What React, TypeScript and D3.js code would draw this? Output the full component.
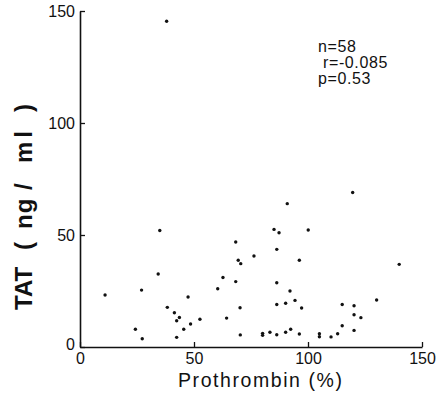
import React, { useRef, useEffect } from 'react';
import * as d3 from 'd3';

// Prothrombin (%) vs TAT (ng/ml)
const prothrombin = [
  11, 27, 35, 34.3, 24.3, 27.3, 38.3, 41.4, 43.6, 42.4, 47.4, 45.5, 42.4, 48.5, 52.6,
  60.4, 64.3, 68.3, 69.4, 70.5, 68.3, 70.2, 70.3, 38,
  90.9, 85.1, 87.3, 100.1, 76.3, 86.3, 96.2, 140, 86.3, 92.1, 86.3, 90.2, 94.3, 97.2,
  130.1, 115, 120.2, 120.2, 123.2, 115, 120.2, 113, 110.1, 105, 105, 96.2, 92.4, 90.2,
  86.3, 83.3, 80.1, 80.1, 119.6, 62.7
];
const tat = [
  23.2, 25.4, 52, 32.6, 7.9, 3.7, 17.7, 15.3, 13.2, 11.7, 22.3, 7.9, 4.3, 10.3, 12.4,
  26, 12.9, 46.9, 38.7, 37.2, 29.2, 17.5, 5.4, 145.4,
  64, 52.5, 51, 52.2, 40.6, 43.6, 38.7, 36.9, 28.7, 25, 19, 19.5, 20.8, 17.4,
  21, 19, 18.4, 14.4, 13.1, 9.5, 7.4, 5.9, 4.5, 5.9, 4.6, 5.8, 7.9, 6.6,
  5.5, 6.6, 6.1, 5.2, 69, 31
];
const ticks = [0, 50, 100, 150];
const stats = ['n=58', ' r=-0.085', 'p=0.53'];

function App() {
  const ref = useRef<SVGSVGElement>(null);

  useEffect(() => {
    const svg = d3.select(ref.current);
    svg.selectAll('*').remove();
    const font = 'Liberation Sans, Arial, Helvetica, sans-serif';

    const x = d3.scaleLinear().domain([0, 150]).range([80, 422]);
    const y = d3.scaleLinear().domain([0, 150]).range([347, 11]);

    // ticks point inward, like the original
    const xAxis = svg.append('g')
      .attr('transform', 'translate(0,' + y(0) + ')')
      .call(d3.axisBottom(x).tickValues(ticks).tickSizeInner(-5).tickSizeOuter(0).tickPadding(6));
    const yAxis = svg.append('g')
      .attr('transform', 'translate(' + x(0) + ',0)')
      .call(d3.axisLeft(y).tickValues(ticks).tickSizeInner(-5).tickSizeOuter(0).tickPadding(5));

    [xAxis, yAxis].forEach(a => {
      a.select('.domain').attr('stroke', '#111').attr('stroke-width', 1.6);
      a.selectAll('.tick line').attr('stroke', '#111').attr('stroke-width', 1.3);
      a.selectAll('.tick text')
        .attr('fill', '#111')
        .style('font-family', font)
        .style('font-size', '16px');
    });
    // the y-axis zero is a little below the corner in the scan
    yAxis.selectAll('.tick text').filter(d => d === 0).attr('dy', '0.15em');

    const pts = prothrombin.map((p, i) => ({ p, t: tat[i] }));
    svg.append('g').selectAll('circle')
      .data(pts)
      .enter().append('circle')
      .attr('cx', d => x(d.p))
      .attr('cy', d => y(d.t))
      .attr('r', 1.7)
      .attr('fill', '#111');

    // y title, spaced out the way the scan has it
    const yTitle = svg.append('text')
      .attr('transform', 'translate(32,0) rotate(-90)')
      .style('font-family', font)
      .style('font-size', '24px')
      .style('font-weight', 'bold')
      .attr('fill', '#111');
    yTitle.append('tspan').attr('x', -310).text('TAT');
    yTitle.append('tspan').attr('x', -250).text('(');
    yTitle.append('tspan').attr('x', -229).style('letter-spacing', '1px').text('ng');
    yTitle.append('tspan').attr('x', -190).text('/');
    yTitle.append('tspan').attr('x', -163).style('letter-spacing', '4px').text('ml');
    yTitle.append('tspan').attr('x', -112).text(')');

    svg.append('text')
      .attr('x', 260)
      .attr('y', 387)
      .attr('text-anchor', 'middle')
      .attr('textLength', 164)
      .attr('lengthAdjust', 'spacing')
      .style('font-family', font)
      .style('font-size', '19.5px')
      .attr('fill', '#111')
      .text('Prothrombin (%)');

    svg.append('g').selectAll('text')
      .data(stats)
      .enter().append('text')
      .attr('x', 318)
      .attr('y', (d, i) => 52 + i * 16)
      .style('font-family', font)
      .style('font-size', '16px')
      .style('letter-spacing', '0.6px')
      .style('white-space', 'pre')
      .attr('fill', '#111')
      .text(d => d);
  }, []);

  return (
    <svg ref={ref} width={442} height={396}
      style={{ position: 'absolute', left: 0, top: 0, background: '#fff' }} />
  );
}

export default App;
